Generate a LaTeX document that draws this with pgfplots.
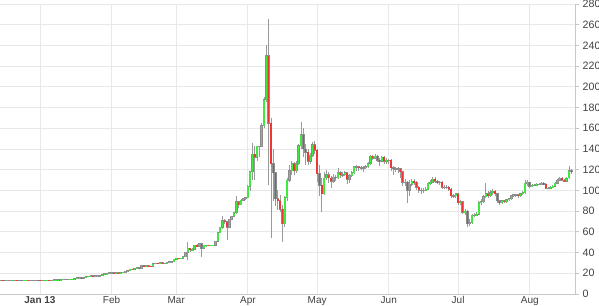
\documentclass[border=0pt]{standalone}
\usepackage{pgfplots}
\usepackage{pgfplotstable}
\pgfplotsset{compat=1.18}
\usepackage{fontspec}
\setmainfont{Liberation Sans}
\definecolor{upg}{HTML}{3FEA3F}
\definecolor{dnr}{HTML}{F03535}
\definecolor{wick}{HTML}{9A9A9A}
\definecolor{bord}{HTML}{8C8C8C}
\definecolor{gridc}{HTML}{E8E8E8}
\definecolor{axc}{HTML}{C8C8C8}
\definecolor{labc}{HTML}{404040}
\pgfplotstableread{
d o h l c
-17 13.4 13.5 13.3 13.4
-16 13.4 13.5 13.3 13.3
-15 13.3 13.4 13.2 13.3
-14 13.3 13.4 13.2 13.4
-13 13.4 13.5 13.3 13.4
-12 13.4 13.5 13.3 13.5
-11 13.5 13.6 13.4 13.5
-10 13.5 13.6 13.4 13.4
-9 13.4 13.5 13.3 13.4
-8 13.4 13.5 13.3 13.3
-7 13.3 13.4 13.2 13.4
-6 13.4 13.5 13.3 13.5
-5 13.5 13.6 13.4 13.4
-4 13.4 13.5 13.3 13.4
-3 13.4 13.5 13.3 13.4
-2 13.4 13.5 13.3 13.5
-1 13.5 13.6 13.3 13.4
0 13.4 13.5 13.2 13.3
1 13.3 13.4 13.2 13.3
2 13.3 13.5 13.2 13.4
3 13.4 13.6 13.3 13.5
4 13.5 13.6 13.3 13.4
5 13.4 13.5 13.3 13.5
6 13.5 13.7 13.4 13.6
7 13.6 13.8 13.5 13.7
8 13.7 13.9 13.6 13.8
9 13.8 14.1 13.7 14.0
10 14.0 14.3 13.9 14.2
11 14.2 14.3 14.0 14.2
12 14.2 14.4 14.1 14.2
13 14.2 14.4 14.1 14.3
14 14.3 14.5 14.2 14.4
15 14.4 14.9 14.3 14.7
16 14.7 15.6 14.6 15.5
17 15.5 15.9 15.2 15.7
18 15.7 15.9 15.4 15.6
19 15.6 15.8 15.3 15.6
20 15.6 16.9 15.5 16.8
21 16.8 17.5 16.6 17.3
22 17.3 17.8 17.0 17.5
23 17.5 17.8 16.5 16.9
24 16.9 17.6 16.7 17.5
25 17.5 18.0 17.3 17.8
26 17.8 18.0 17.5 17.8
27 17.8 18.9 17.7 18.8
28 18.8 19.6 18.6 19.5
29 19.5 19.9 19.2 19.7
30 19.7 20.6 19.5 20.4
31 20.4 20.8 20.1 20.5
32 20.5 20.6 19.2 19.6
33 19.6 20.7 19.5 20.6
34 20.6 20.8 20.2 20.4
35 20.4 20.8 20.2 20.6
36 20.6 21.4 20.5 21.2
37 21.2 22.3 21.0 22.1
38 22.1 22.8 21.9 22.6
39 22.6 24.0 22.4 23.8
40 23.8 24.1 23.3 23.7
41 23.7 24.8 23.6 24.6
42 24.6 25.5 24.4 25.2
43 25.2 25.4 23.9 24.3
44 24.3 27.4 24.2 27.2
45 27.2 27.5 26.7 27.1
46 27.1 27.4 26.8 27.2
47 27.2 27.4 26.7 27.0
48 27.0 27.3 26.4 26.8
49 26.8 29.6 26.7 29.4
50 29.4 30.3 29.1 29.9
51 29.9 30.1 29.3 29.8
52 29.8 30.4 29.6 30.2
53 30.2 30.3 29.5 29.8
54 29.8 30.1 29.5 29.8
55 29.8 30.6 29.6 30.4
56 30.4 31.2 30.2 31.0
57 31.0 31.4 30.8 31.1
58 31.1 33.6 31.0 33.4
59 33.4 34.8 33.2 34.5
60 34.5 34.9 33.8 34.3
61 34.3 34.8 34.0 34.5
62 34.5 36.6 34.2 36.2
63 36.2 40.8 36.0 40.3
64 40.3 50.0 33.0 44.2
65 44.2 44.8 40.5 42.5
66 42.5 44.0 42.0 43.2
67 43.2 47.2 43.0 46.9
68 46.9 48.0 45.5 46.0
69 46.0 48.7 45.8 48.4
70 48.4 48.6 36.0 44.2
71 44.2 47.5 43.5 46.9
72 46.9 47.4 46.2 47.0
73 47.0 47.5 46.4 46.9
74 46.9 47.4 46.5 47.0
75 47.0 47.8 46.7 47.2
76 47.2 51.5 47.0 51.1
77 51.1 59.8 50.8 59.3
78 59.3 65.0 58.5 64.4
79 64.4 74.9 63.0 70.8
80 70.8 72.5 68.0 69.8
81 69.8 70.5 52.0 64.3
82 64.3 72.5 63.5 72.0
83 72.0 75.5 71.0 74.9
84 74.9 79.0 74.0 78.5
85 78.5 95.0 77.5 89.2
86 89.2 89.8 83.0 86.2
87 86.2 92.0 85.5 90.5
88 90.5 93.0 89.5 92.2
89 92.2 94.0 90.5 93.0
90 93.0 105.0 92.5 104.0
91 104.0 118.5 99.0 117.9
92 117.9 146.0 110.0 135.0
93 135.0 143.0 110.0 132.0
94 132.0 143.0 128.0 142.6
95 142.6 143.0 132.0 142.6
96 142.6 165.0 142.0 162.3
97 162.3 190.0 160.0 187.5
98 187.5 240.0 185.0 230.0
99 230.0 266.0 105.0 165.0
100 165.0 170.0 54.0 126.0
101 126.0 140.0 90.0 117.0
102 117.0 118.0 85.0 92.0
103 92.0 100.0 81.0 90.0
104 90.0 96.0 79.0 82.0
105 82.0 86.0 50.0 68.0
106 68.0 95.0 65.0 93.0
107 93.0 112.0 90.0 110.0
108 110.0 125.0 108.0 119.0
109 119.0 128.0 115.0 126.0
110 126.0 127.0 115.0 119.0
111 119.0 128.0 117.0 126.0
112 126.0 145.0 125.0 143.0
113 143.0 166.0 140.0 154.0
114 154.0 160.0 132.0 140.0
115 140.0 145.0 125.0 137.0
116 137.0 140.0 125.0 128.0
117 128.0 136.0 126.0 134.0
118 134.0 147.0 132.0 144.0
119 144.0 148.0 135.0 139.0
120 139.0 140.0 108.0 116.0
121 116.0 125.0 95.0 105.0
122 105.0 112.0 79.0 97.0
123 97.0 118.0 96.0 112.0
124 112.0 120.0 110.0 115.0
125 115.0 118.0 107.0 112.0
126 112.0 114.0 102.0 109.0
127 109.0 116.0 107.0 113.0
128 113.0 115.0 109.0 112.0
129 112.0 122.0 111.0 117.0
130 117.0 119.0 112.0 115.0
131 115.0 118.0 113.0 115.0
132 115.0 119.0 114.0 117.0
133 117.0 118.0 106.0 111.0
134 111.0 116.0 107.0 114.0
135 114.0 119.0 113.0 117.0
136 117.0 124.0 116.0 123.0
137 123.0 125.0 119.0 123.0
138 123.0 124.0 119.0 122.0
139 122.0 124.0 120.0 122.0
140 122.0 124.0 118.0 122.0
141 122.0 125.0 121.0 123.0
142 123.0 127.0 122.0 126.0
143 126.0 134.0 125.0 133.0
144 133.0 134.0 129.0 131.0
145 131.0 135.0 130.0 133.0
146 133.0 134.0 127.0 129.0
147 129.0 131.0 124.0 128.0
148 128.0 133.0 127.0 132.0
149 132.0 133.0 126.0 128.0
150 128.0 131.0 126.0 129.0
151 129.0 130.0 126.0 129.0
152 129.0 130.0 119.0 122.0
153 122.0 124.0 115.0 121.0
154 121.0 123.0 118.0 121.0
155 121.0 123.0 117.0 121.0
156 121.0 122.0 112.0 118.0
157 118.0 119.0 104.0 108.0
158 108.0 111.0 104.0 108.0
159 108.0 109.0 88.0 100.0
160 100.0 110.0 95.0 106.0
161 106.0 111.0 104.0 109.0
162 109.0 111.0 105.0 108.0
163 108.0 109.0 100.0 103.0
164 103.0 104.0 98.0 100.0
165 100.0 102.0 97.0 100.0
166 100.0 102.0 98.0 100.0
167 100.0 103.0 99.0 101.0
168 101.0 108.0 100.0 107.0
169 107.0 110.0 105.0 108.0
170 108.0 113.0 107.0 111.0
171 111.0 113.0 107.0 109.0
172 109.0 110.0 106.0 108.0
173 108.0 109.0 105.0 108.0
174 108.0 109.0 101.0 103.0
175 103.0 105.0 101.0 103.0
176 103.0 105.0 101.0 103.0
177 103.0 104.0 99.0 101.0
178 101.0 102.0 93.0 95.0
179 95.0 97.0 93.0 95.0
180 95.0 98.0 93.0 97.0
181 97.0 98.0 86.0 88.0
182 88.0 91.0 86.0 89.0
183 89.0 90.0 77.0 79.0
184 79.0 82.0 76.0 80.0
185 80.0 81.0 65.0 68.0
186 68.0 72.0 66.0 69.0
187 69.0 77.0 68.0 76.0
188 76.0 78.0 74.0 76.0
189 76.0 79.0 75.0 77.0
190 77.0 90.0 76.0 88.0
191 88.0 92.0 86.0 89.0
192 89.0 96.0 88.0 94.0
193 94.0 107.0 93.0 97.0
194 97.0 99.0 93.0 95.0
195 95.0 100.0 94.0 98.0
196 98.0 101.0 96.0 99.0
197 99.0 100.0 95.0 97.0
198 97.0 98.0 88.0 90.0
199 90.0 91.0 86.0 88.0
200 88.0 91.0 87.0 90.0
201 90.0 91.0 88.0 89.0
202 89.0 92.0 88.0 91.0
203 91.0 93.0 90.0 92.0
204 92.0 96.0 91.0 95.0
205 95.0 97.0 94.0 96.0
206 96.0 97.0 94.0 96.0
207 96.0 97.0 93.0 95.0
208 95.0 98.0 94.0 97.0
209 97.0 99.0 96.0 98.0
210 98.0 110.0 97.0 107.0
211 107.0 110.0 104.0 108.0
212 108.0 108.0 102.0 104.0
213 104.0 106.0 103.0 105.0
214 105.0 106.0 104.0 105.0
215 105.0 107.0 104.0 106.0
216 106.0 107.0 105.0 106.0
217 106.0 108.0 105.0 107.0
218 107.0 108.0 105.0 106.0
219 106.0 107.0 101.0 102.0
220 102.0 103.0 101.0 102.0
221 102.0 104.0 101.0 103.0
222 103.0 105.0 102.0 104.0
223 104.0 108.0 103.0 107.0
224 107.0 111.0 106.0 110.0
225 110.0 113.0 109.0 112.0
226 112.0 113.0 109.0 110.0
227 110.0 111.0 108.0 109.0
228 109.0 113.0 108.0 112.0
229 112.0 124.0 111.0 119.0
230 119.0 121.0 116.0 118.0
}\btc
\begin{document}
\begin{tikzpicture}
\begin{axis}[
  scale only axis,
  width=431.25pt, height=217.5pt,
  xmin=-17.3, xmax=231.6,
  ymin=0, ymax=280,
  axis x line*=bottom,
  axis y line*=right,
  axis line style={axc, line width=0.75pt},
  xtick={0,31,59,90,120,151,181,212},
  xticklabels={\textbf{Jan 13},Feb,Mar,Apr,May,Jun,Jul,Aug},
  ytick={0,20,...,280},
  x tick style={draw=none},
  y tick style={axc, line width=0.6pt},
  tick align=outside,
  major tick length=3.2pt,
  grid=major,
  grid style={gridc, line width=0.6pt},
  /pgf/number format/assume math mode=true,
  xticklabel style={font=\fontsize{7.5}{9}\selectfont, text=labc, inner sep=0pt, anchor=north, yshift=1.6pt},
  yticklabel style={font=\fontsize{8}{9}\selectfont, text=labc, anchor=west, xshift=-1pt},
  unbounded coords=discard,
]
% wicks
\addplot[draw=none, mark=none, forget plot,
  error bars/.cd, y dir=both, y explicit, error mark=none,
  error bar style={draw=wick, line width=0.65pt}]
  table[x=d, y expr={(\thisrow{h}+\thisrow{l})/2}, y error expr={(\thisrow{h}-\thisrow{l})/2}] {\btc};
% body border
\addplot[draw=none, mark=none, forget plot,
  error bars/.cd, y dir=both, y explicit, error mark=none,
  error bar style={draw=bord, line width=1.9pt}]
  table[x=d, y expr={(\thisrow{o}+\thisrow{c})/2}, y error expr={abs(\thisrow{c}-\thisrow{o})/2+0.45}] {\btc};
% up bodies
\addplot[draw=none, mark=none, forget plot,
  error bars/.cd, y dir=both, y explicit, error mark=none,
  error bar style={draw=upg, line width=1.1pt}]
  table[x=d, y expr={\thisrow{c}>\thisrow{o} ? (\thisrow{o}+\thisrow{c})/2 : nan}, y error expr={abs(\thisrow{c}-\thisrow{o})/2}] {\btc};
% down bodies
\addplot[draw=none, mark=none, forget plot,
  error bars/.cd, y dir=both, y explicit, error mark=none,
  error bar style={draw=dnr, line width=1.1pt}]
  table[x=d, y expr={\thisrow{c}<\thisrow{o} ? (\thisrow{o}+\thisrow{c})/2 : nan}, y error expr={abs(\thisrow{c}-\thisrow{o})/2}] {\btc};
\end{axis}
\pgfresetboundingbox
\path[use as bounding box] (0,-8.25pt) rectangle (449.25pt,220.5pt);
\end{tikzpicture}
\end{document}
